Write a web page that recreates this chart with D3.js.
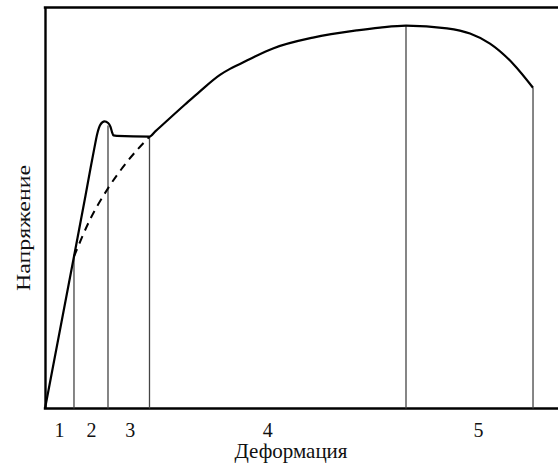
<!DOCTYPE html>
<html>
<head>
<meta charset="utf-8">
<script src="https://cdn.jsdelivr.net/npm/d3@7"></script>
<style>
html,body{margin:0;padding:0;background:#fff;}
svg{display:block;}
</style>
</head>
<body>
<svg id="chart" width="558" height="469"></svg>
<script>
// ---- data ----
const curveStrain = [0, 5.65, 7.9, 8.9, 9.6, 10.2, 10.8, 11.6, 12.3, 12.75, 13.05, 13.35, 14.0, 20.37, 21.5, 27.29, 30.21, 34.11, 36.06, 38.01, 40.94, 44.44, 52.24, 60.82, 65.3, 70.37, 78.36, 82.85, 86.74, 91.23, 95.13];
const curveStress = [0, 37.9, 53.1, 60.1, 64.8, 68.6, 70.8, 71.6, 71.2, 70.3, 69.0, 68.1, 68.0, 67.8, 69.1, 75.8, 79.1, 83.2, 84.7, 85.9, 87.8, 89.8, 92.5, 94.3, 95.0, 95.5, 94.8, 93.5, 91.0, 86.0, 80.0];
const dashStrain = [5.65, 8.77, 12.28, 16.18, 20.37];
const dashStress = [37.9, 47.1, 54.9, 61.8, 67.8];
const boundaryStrain = [5.65, 12.28, 20.37, 70.37, 95.13];
const boundaryStress = [37.9, 70.6, 67.8, 95.5, 80.0];
const regionLabels = ["1", "2", "3", "4", "5"];
const regionLabelStrain = [2.73, 8.97, 16.5, 43.3, 84.4];
const xTitle = "Деформация";
const yTitle = "Напряжение";

// ---- layout ----
const svg = d3.select("#chart");
const x = d3.scaleLinear().domain([0, 100]).range([45, 558]);
const y = d3.scaleLinear().domain([0, 100]).range([408.5, 7.5]);
const font = "'Liberation Serif','Times New Roman',serif";

// frame (top, left, bottom) via axes
const bottomAxis = d3.axisBottom(x).tickValues(regionLabelStrain)
  .tickFormat((d, i) => regionLabels[i]).tickSize(0).tickPadding(14);
const gB = svg.append("g").attr("transform", `translate(0,${y(0)})`).call(bottomAxis);
gB.select(".domain").attr("stroke", "#000").attr("stroke-width", 2.4).attr("d", `M${x(0)-1.2},0H${x(100)+5}`);
gB.selectAll("text").attr("font-family", font).attr("font-size", 20).attr("fill", "#111");

const leftAxis = d3.axisLeft(y).tickValues([]).tickSizeOuter(0);
const gL = svg.append("g").attr("transform", `translate(${x(0)},0)`).call(leftAxis);
gL.select(".domain").attr("stroke", "#000").attr("stroke-width", 2.4);

const topAxis = d3.axisTop(x).tickValues([]).tickSizeOuter(0);
const gT = svg.append("g").attr("transform", `translate(0,${y(100)})`).call(topAxis);
gT.select(".domain").attr("stroke", "#000").attr("stroke-width", 2.4).attr("d", `M${x(0)-1.2},0H${x(100)+5}`);

// boundary lines
svg.append("g").selectAll("line").data(boundaryStrain).join("line")
  .attr("x1", d => x(d)).attr("x2", d => x(d))
  .attr("y1", y(0)).attr("y2", (d, i) => y(boundaryStress[i]))
  .attr("stroke", "#444").attr("stroke-width", 1.3);

// dashed curve
const dashPts = dashStrain.map((d, i) => [d, dashStress[i]]);
svg.append("path").datum(dashPts)
  .attr("d", d3.line().x(d => x(d[0])).y(d => y(d[1])).curve(d3.curveMonotoneX))
  .attr("fill", "none").attr("stroke", "#000").attr("stroke-width", 2)
  .attr("stroke-dasharray", "8,6");

// main curve
const pts = curveStrain.map((d, i) => [d, curveStress[i]]);
svg.append("path").datum(pts)
  .attr("d", d3.line().x(d => x(d[0])).y(d => y(d[1])).curve(d3.curveMonotoneX))
  .attr("fill", "none").attr("stroke", "#000").attr("stroke-width", 2.2)
  .attr("stroke-linejoin", "round");

// titles
svg.append("text").attr("x", 291).attr("y", 458).attr("text-anchor", "middle")
  .attr("font-family", font).attr("font-size", 21).attr("fill", "#111").text(xTitle);
svg.append("text").attr("transform", "translate(30,228) rotate(-90)").attr("text-anchor", "middle")
  .attr("font-family", font).attr("font-size", 18).attr("fill", "#111")
  .attr("textLength", 126).attr("lengthAdjust", "spacingAndGlyphs").text(yTitle);
</script>
</body>
</html>
